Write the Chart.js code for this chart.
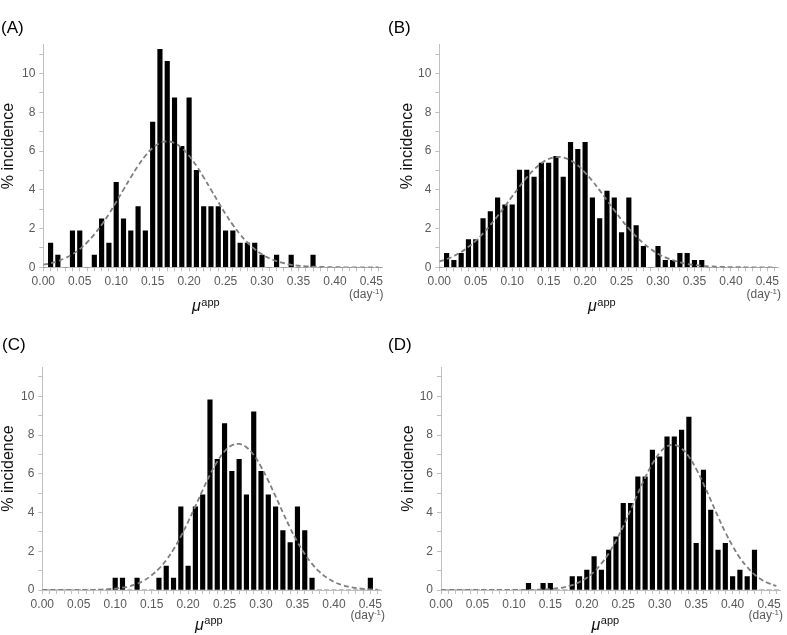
<!DOCTYPE html>
<html>
<head>
<meta charset="utf-8">
<title>% incidence of mu app</title>
<script src="https://cdn.jsdelivr.net/npm/chart.js@4.4.1/dist/chart.umd.min.js"></script>
<style>
  body { margin: 0; background: #fff; }
  #page { position: relative; width: 787px; height: 635px; overflow: hidden; }
  .panel { position: absolute; }
</style>
</head>
<body>
<div id="page">
  <div class="panel" style="left:0px;top:0px;width:391px;height:322px"><canvas id="chartA"></canvas></div>
  <div class="panel" style="left:386px;top:0px;width:401px;height:322px"><canvas id="chartB"></canvas></div>
  <div class="panel" style="left:0px;top:322px;width:391px;height:313px"><canvas id="chartC"></canvas></div>
  <div class="panel" style="left:386px;top:322px;width:401px;height:313px"><canvas id="chartD"></canvas></div>
</div>
<script>
// bin centres of the histogram (day^-1)
const muBins = [0.00, 0.01, 0.02, 0.03, 0.04, 0.05, 0.06, 0.07, 0.08, 0.09,
                0.10, 0.11, 0.12, 0.13, 0.14, 0.15, 0.16, 0.17, 0.18, 0.19,
                0.20, 0.21, 0.22, 0.23, 0.24, 0.25, 0.26, 0.27, 0.28, 0.29,
                0.30, 0.31, 0.32, 0.33, 0.34, 0.35, 0.36, 0.37, 0.38, 0.39,
                0.40, 0.41, 0.42, 0.43, 0.44, 0.45, 0.46];

// % incidence per bin (bars) and fitted normal curve (dashed)
const pctA = [0, 1.25, 0.63, 0, 1.88, 1.88, 0, 0.63, 2.5, 1.25,
              4.38, 2.5, 1.88, 3.13, 1.88, 7.5, 11.25, 10.63, 8.75, 6.25,
              8.75, 5.0, 3.13, 3.13, 3.13, 1.88, 1.88, 1.25, 1.25, 1.25,
              0.63, 0, 0.63, 0, 0.63, 0, 0, 0.63, 0, 0,
              0, 0, 0, 0, 0, 0, 0];
const fitA = [0.13, 0.21, 0.32, 0.47, 0.67, 0.94, 1.28, 1.70, 2.19, 2.75,
              3.37, 4.01, 4.64, 5.24, 5.76, 6.16, 6.41, 6.50, 6.41, 6.16,
              5.76, 5.24, 4.64, 4.01, 3.37, 2.75, 2.19, 1.70, 1.28, 0.94,
              0.67, 0.47, 0.32, 0.21, 0.13, 0.08, 0.05, 0.03, 0.02, 0.01,
              0.01, 0, 0, 0, 0, 0, 0];

const pctB = [0, 0.72, 0.36, 0.72, 1.43, 1.43, 2.51, 2.87, 3.58, 3.23,
              3.23, 5.02, 5.02, 4.66, 5.38, 5.38, 5.73, 4.66, 6.45, 6.09,
              6.45, 3.58, 2.51, 3.94, 3.58, 1.79, 3.58, 2.15, 1.08, 0,
              1.08, 0.36, 0.36, 0.72, 0.72, 0.36, 0.36, 0, 0, 0,
              0, 0, 0, 0, 0, 0, 0];
const fitB = [0.30, 0.42, 0.58, 0.79, 1.06, 1.37, 1.75, 2.18, 2.65, 3.15,
              3.66, 4.17, 4.64, 5.05, 5.37, 5.59, 5.69, 5.67, 5.52, 5.26,
              4.89, 4.46, 3.97, 3.46, 2.95, 2.45, 2.00, 1.59, 1.24, 0.95,
              0.70, 0.51, 0.37, 0.26, 0.17, 0.12, 0.08, 0.05, 0.03, 0.02,
              0.01, 0.01, 0, 0, 0, 0, 0];

const pctC = [0, 0, 0, 0, 0, 0, 0, 0, 0, 0,
              0.61, 0.61, 0, 0.61, 0, 0, 0.61, 1.23, 0.61, 4.29,
              1.23, 4.29, 4.91, 9.82, 6.75, 8.59, 6.13, 6.75, 4.91, 9.2,
              6.13, 4.91, 4.29, 3.07, 2.45, 4.29, 3.07, 0.61, 0, 0,
              0, 0, 0, 0, 0, 0.61, 0];
const fitC = [0, 0, 0, 0, 0, 0, 0, 0.01, 0.02, 0.04,
              0.07, 0.12, 0.20, 0.32, 0.50, 0.76, 1.10, 1.54, 2.10, 2.76,
              3.52, 4.33, 5.16, 5.95, 6.63, 7.16, 7.47, 7.54, 7.37, 6.97,
              6.37, 5.64, 4.83, 4.00, 3.20, 2.48, 1.86, 1.35, 0.95, 0.64,
              0.42, 0.27, 0.17, 0.10, 0.06, 0.03, 0.02];

const pctD = [0, 0, 0, 0, 0, 0, 0, 0, 0, 0,
              0, 0, 0.34, 0, 0.34, 0.34, 0, 0, 0.69, 0.69,
              1.03, 1.72, 1.03, 2.06, 2.75, 4.47, 4.47, 5.84, 5.84, 7.22,
              6.87, 7.9, 7.9, 8.25, 8.93, 2.41, 6.19, 4.12, 2.06, 2.41,
              0.69, 1.03, 0.69, 2.06, 0, 0, 0];
const fitD = [0, 0, 0, 0, 0, 0, 0, 0, 0, 0,
              0, 0, 0.01, 0.01, 0.03, 0.05, 0.09, 0.15, 0.25, 0.41,
              0.63, 0.94, 1.36, 1.89, 2.54, 3.29, 4.12, 4.98, 5.80, 6.52,
              7.08, 7.42, 7.49, 7.31, 6.88, 6.25, 5.48, 4.64, 3.78, 2.98,
              2.27, 1.66, 1.18, 0.80, 0.53, 0.34, 0.21];

// tick labels
const xTickLabels = ['0.00', '0.05', '0.10', '0.15', '0.20', '0.25', '0.30', '0.35', '0.40', '0.45'];
const yTickLabels = [0, 2, 4, 6, 8, 10];

const FONT = '"Liberation Sans", Arial, Helvetica, sans-serif';
Chart.defaults.font.family = FONT;

// panel label, axis titles and the (day-1) unit
const panelText = {
  id: 'panelText',
  afterDraw(chart, args, o) {
    const ctx = chart.ctx;
    ctx.save();
    ctx.textBaseline = 'alphabetic';
    ctx.fillStyle = '#000';
    ctx.textAlign = 'left';
    ctx.font = '17px ' + FONT;
    ctx.fillText(o.label, o.labelX, o.labelY);

    ctx.save();
    ctx.translate(o.yTitleX, o.yTitleY);
    ctx.rotate(-Math.PI / 2);
    ctx.textAlign = 'center';
    ctx.textBaseline = 'middle';
    ctx.font = '16px ' + FONT;
    ctx.fillStyle = '#111';
    ctx.fillText('% incidence', 0, 0);
    ctx.restore();

    ctx.fillStyle = '#111';
    ctx.font = 'italic 16px ' + FONT;
    ctx.fillText('\u03BC', o.muX, o.muY);
    const muW = ctx.measureText('\u03BC').width;
    ctx.font = '11px ' + FONT;
    ctx.fillText('app', o.muX + muW + 0.5, o.muY - 5.5);

    ctx.fillStyle = '#595959';
    ctx.font = '12px ' + FONT;
    const w1 = ctx.measureText('(day').width;
    const w3 = ctx.measureText(')').width;
    ctx.font = '8px ' + FONT;
    const w2 = ctx.measureText('-1').width;
    let x = o.unitRight - (w1 + w2 + w3);
    ctx.font = '12px ' + FONT;
    ctx.fillText('(day', x, o.unitY);
    x += w1;
    ctx.font = '8px ' + FONT;
    ctx.fillText('-1', x, o.unitY - 4);
    x += w2;
    ctx.font = '12px ' + FONT;
    ctx.fillText(')', x, o.unitY);
    ctx.restore();
  }
};

function makePanel(id, pct, fit, g) {
  const bars = muBins.map((m, i) => ({ x: m, y: pct[i] }));
  const curve = muBins.map((m, i) => ({ x: m, y: fit[i] }));
  return new Chart(document.getElementById(id), {
    type: 'bar',
    data: {
      datasets: [
        {
          type: 'line',
          data: curve,
          borderColor: '#7f7f7f',
          borderWidth: 1.8,
          borderDash: [5, 3],
          pointRadius: 0,
          tension: 0.4,
          fill: false,
          order: 0
        },
        {
          type: 'bar',
          data: bars,
          backgroundColor: '#000',
          borderWidth: 0,
          barThickness: 4.5,
          order: 1
        }
      ]
    },
    options: {
      responsive: true,
      maintainAspectRatio: false,
      animation: false,
      devicePixelRatio: 1,
      layout: { padding: { left: 0, top: g.top, right: g.right, bottom: 0 } },
      plugins: {
        legend: { display: false },
        tooltip: { enabled: false },
        title: { display: false },
        panelText: g.text
      },
      scales: {
        x: {
          type: 'linear',
          offset: false,
          min: 0,
          max: 0.465,
          grid: { offset: false, drawOnChartArea: false, drawTicks: true, tickLength: 4, color: '#bfbfbf' },
          border: { color: '#bfbfbf', width: 1 },
          ticks: {
            stepSize: 0.01,
            includeBounds: false,
            autoSkip: false,
            maxRotation: 0,
            minRotation: 0,
            padding: 3,
            color: '#595959',
            font: { size: 12 },
            callback: v => {
              const s = (Math.round(v * 100) / 100).toFixed(2);
              return xTickLabels.includes(s) ? s : '';
            }
          },
          afterFit: s => { s.height = g.xHeight; }
        },
        y: {
          min: 0,
          max: 11.5,
          grid: { drawOnChartArea: false, drawTicks: true, tickLength: 4, color: '#bfbfbf' },
          border: { color: '#bfbfbf', width: 1 },
          ticks: {
            stepSize: 1,
            includeBounds: false,
            padding: 4,
            color: '#595959',
            font: { size: 12 },
            callback: v => (yTickLabels.includes(Math.round(v)) && Math.abs(v - Math.round(v)) < 1e-6 ? String(Math.round(v)) : '')
          },
          afterFit: s => { s.width = g.yWidth; }
        }
      }
    },
    plugins: [panelText]
  });
}

makePanel('chartA', pctA, fitA, {
  top: 44.5, right: 8.7, yWidth: 43.3, xHeight: 54.7,
  text: { label: '(A)', labelX: 1, labelY: 33, yTitleX: 8.5, yTitleY: 146, muX: 192, muY: 311, unitRight: 383.5, unitY: 298 }
});
makePanel('chartB', pctB, fitB, {
  top: 44.5, right: 8.7, yWidth: 53.3, xHeight: 54.7,
  text: { label: '(B)', labelX: 2, labelY: 33, yTitleX: 22, yTitleY: 146, muX: 202, muY: 311, unitRight: 395, unitY: 298 }
});
makePanel('chartC', pctC, fitC, {
  top: 45.2, right: 9.7, yWidth: 42.3, xHeight: 45,
  text: { label: '(C)', labelX: 2, labelY: 28, yTitleX: 8.3, yTitleY: 146.5, muX: 195, muY: 307.5, unitRight: 385, unitY: 297 }
});
makePanel('chartD', pctD, fitD, {
  top: 45.2, right: 7, yWidth: 55, xHeight: 45,
  text: { label: '(D)', labelX: 2, labelY: 28, yTitleX: 22.3, yTitleY: 146.5, muX: 205.5, muY: 307.5, unitRight: 397, unitY: 297 }
});
</script>
</body>
</html>
